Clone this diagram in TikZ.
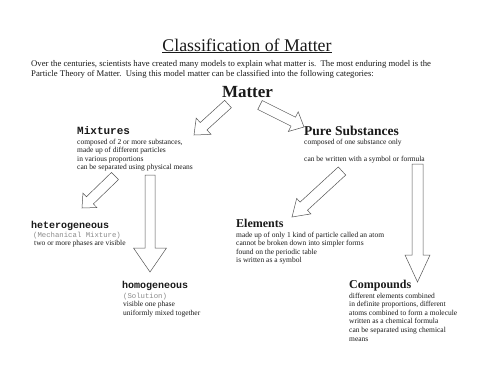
\documentclass[tikz,border=0pt]{standalone}
\usepackage{fontspec}
\setmainfont{Liberation Serif}
\setmonofont{Liberation Mono}
\usetikzlibrary{calc}
\definecolor{txt}{HTML}{1A1A1A}
\definecolor{lbl}{HTML}{8A8A8A}
\definecolor{arr}{HTML}{555555}
\newcommand\blk[1]{\begin{tabular}[t]{@{}l@{}}#1\end{tabular}}
\newcommand\graymono{\ttfamily\color{lbl}\fontsize{7.3}{8.6}\selectfont}
\newcommand\blockarrow[5]{%
  \coordinate (hb) at ($(#2)!#5!(#1)$);
  \draw[arrowline] ($(#1)!#3!90:(#2)$) -- ($(hb)!#3!90:(#2)$) -- ($(hb)!#4!90:(#2)$)
    -- (#2) -- ($(hb)!#4!-90:(#2)$) -- ($(hb)!#3!-90:(#2)$) -- ($(#1)!#3!-90:(#2)$) -- cycle;}
\begin{document}
\begin{tikzpicture}[x=1pt,y=-1pt,
  every node/.style={inner sep=0pt,anchor=base west,text=txt},
  bodytext/.style={font=\fontsize{7.5}{8.6}\selectfont},
  monohead/.style={font=\ttfamily\bfseries\fontsize{#1}{12}\selectfont},
  serifhead/.style={font=\bfseries\fontsize{#1}{14}\selectfont},
  arrowline/.style={draw=arr,line width=0.5pt,fill=white,line join=miter}]
\useasboundingbox[fill=white] (0,0) rectangle (500,386);

\node[anchor=base,font=\fontsize{17.8}{20}\selectfont] (title) at (247,51) {\underline{Classification of Matter}};
\node[font=\fontsize{8.7}{10.5}\selectfont] (intro) at (31,66) {\blk{Over the centuries, scientists have created many models to explain what matter is.\ \ The most enduring model is the\\Particle Theory of Matter.\ \ Using this model matter can be classified into the following categories:}};
\node[anchor=base,font=\bfseries\fontsize{17}{20}\selectfont] (matter) at (247.5,97) {Matter};

\node[monohead=11] (mix) at (77,134) {Mixtures};
\node[bodytext] (mixtxt) at (77,144) {\blk{composed of 2 or more substances,\\made up of different particles\\in various proportions\\can be separated using physical means}};

\node[serifhead=13.5] (pure) at (304,135) {Pure Substances};
\node[bodytext] (puretxt) at (304,144) {\blk{composed of one substance only\\ \\can be written with a symbol or formula}};

\node[monohead=10] (het) at (31,228) {heterogeneous};
\node[bodytext] (hettxt) at (33,237) {\blk{{\graymono (Mechanical Mixture)}\\\hspace{1pt}two or more phases are visible}};

\node[monohead=10] (hom) at (122,288) {homogeneous};
\node[bodytext] (homtxt) at (123,298) {\blk{{\graymono (Solution)}\\visible one phase\\uniformly mixed together}};

\node[serifhead=12] (elem) at (236,227) {Elements};
\node[bodytext] (elemtxt) at (236,237) {\blk{made up of only 1 kind of particle called an atom\\cannot be broken down into simpler forms\\found on the periodic table\\is written as a symbol}};

\node[serifhead=12] (comp) at (349,288) {Compounds};
\node[bodytext] (comptxt) at (349,298) {\blk{different elements combined\\in definite proportions, different\\atoms combined to form a molecule\\written as a chemical formula\\can be separated using chemical\\means}};

\coordinate (a1t) at (228,104); \coordinate (a1p) at (194,135);
\coordinate (a2t) at (260,105); \coordinate (a2p) at (304,127);
\coordinate (a3t) at (115,176); \coordinate (a3p) at (82,208);
\coordinate (a4t) at (150,175); \coordinate (a4p) at (150,272);
\coordinate (a5t) at (342,171); \coordinate (a5p) at (292,217);
\coordinate (a6t) at (417.5,164); \coordinate (a6p) at (417.5,282);

\blockarrow{a1t}{a1p}{5pt}{11pt}{13pt}
\blockarrow{a2t}{a2p}{5pt}{11pt}{12pt}
\blockarrow{a3t}{a3p}{5pt}{10pt}{11pt}
\blockarrow{a4t}{a4p}{5pt}{16.5pt}{24pt}
\blockarrow{a5t}{a5p}{5.5pt}{10.5pt}{16pt}
\blockarrow{a6t}{a6p}{5.5pt}{12.5pt}{27pt}
\end{tikzpicture}
\end{document}
